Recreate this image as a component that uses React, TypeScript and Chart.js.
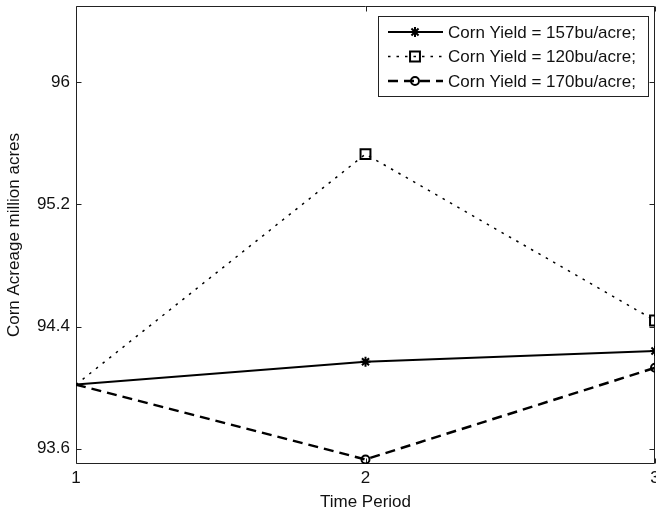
import React, { useEffect, useRef } from 'react';
import { Chart, registerables } from 'chart.js';

Chart.register(...registerables);

const FONT = "'Liberation Sans', Arial, sans-serif";
const FONT_SIZE = 17;

const timePeriods = [1, 2, 3];
const yield157 = [94.02, 94.17, 94.24];
const yield120 = [94.02, 95.53, 94.44];
const yield170 = [94.02, 93.53, 94.13];
const seriesLabels = [
  'Corn Yield = 157bu/acre;',
  'Corn Yield = 120bu/acre;',
  'Corn Yield = 170bu/acre;',
];
const xTickValues = [1, 2, 3];
const yTickValues = [93.6, 94.4, 95.2, 96];
const yMin = 93.5;
const yMax = 96.5;
const xTitle = 'Time Period';
const yTitle = 'Corn Acreage million acres';

function toPoints(vals: number[]) {
  return timePeriods.map((t, i) => ({ x: t, y: vals[i] }));
}

function drawMarker(ctx: CanvasRenderingContext2D, style: string, x: number, y: number, r: number, lw: number) {
  ctx.save();
  ctx.setLineDash([]);
  ctx.lineWidth = lw;
  ctx.strokeStyle = '#000';
  ctx.beginPath();
  if (style === 'star') {
    ctx.moveTo(x - r, y); ctx.lineTo(x + r, y);
    ctx.moveTo(x, y - r); ctx.lineTo(x, y + r);
    const d = r * Math.SQRT1_2;
    ctx.moveTo(x - d, y - d); ctx.lineTo(x + d, y + d);
    ctx.moveTo(x - d, y + d); ctx.lineTo(x + d, y - d);
  } else if (style === 'rect') {
    const s = r * Math.SQRT1_2;
    ctx.rect(x - s, y - s, 2 * s, 2 * s);
  } else {
    ctx.arc(x, y, r, 0, Math.PI * 2);
  }
  ctx.stroke();
  ctx.restore();
}

const framePlugin = {
  id: 'matlabFrame',
  beforeDatasetsDraw(chart: any) {
    const { ctx, chartArea: a, scales } = chart;
    const L = Math.round(a.left) + 0.5;
    const R = Math.round(a.right) - 0.5;
    const T = Math.round(a.top) + 0.5;
    const B = Math.round(a.bottom) - 0.5;
    const tl = 5;
    ctx.save();
    ctx.strokeStyle = '#222';
    ctx.lineWidth = 1;
    ctx.setLineDash([]);
    ctx.beginPath();
    ctx.rect(L, T, R - L, B - T);
    for (const v of yTickValues) {
      const py = Math.round(scales.y.getPixelForValue(v)) + 0.5;
      ctx.moveTo(L, py); ctx.lineTo(L + tl, py);
      ctx.moveTo(R, py); ctx.lineTo(R - tl, py);
    }
    for (const v of xTickValues) {
      const px = Math.round(scales.x.getPixelForValue(v)) + 0.5;
      ctx.moveTo(px, B); ctx.lineTo(px, B - tl);
      ctx.moveTo(px, T); ctx.lineTo(px, T + tl);
    }
    ctx.stroke();
    ctx.restore();
  },
};

const legendPlugin = {
  id: 'matlabLegend',
  afterDatasetsDraw(chart: any) {
    const { ctx } = chart;
    const bx = 378.5, by = 16.5, bw = 270, bh = 80;
    ctx.save();
    ctx.fillStyle = '#fff';
    ctx.fillRect(bx, by, bw, bh);
    ctx.strokeStyle = '#222';
    ctx.lineWidth = 1;
    ctx.setLineDash([]);
    ctx.strokeRect(bx, by, bw, bh);
    chart.data.datasets.forEach((ds: any, i: number) => {
      const y = 32 + i * 24.5;
      ctx.save();
      ctx.strokeStyle = '#000';
      ctx.lineWidth = ds.borderWidth;
      ctx.setLineDash(ds.borderDash || []);
      ctx.beginPath();
      ctx.moveTo(388, y);
      ctx.lineTo(443, y);
      ctx.stroke();
      ctx.restore();
      drawMarker(ctx, ds.pointStyle, 415, y, ds.markerSize, ds.pointBorderWidth);
      ctx.fillStyle = '#111';
      ctx.font = `${FONT_SIZE}px ${FONT}`;
      ctx.textAlign = 'left';
      ctx.textBaseline = 'middle';
      ctx.fillText(ds.label, 448, y + 1);
    });
    ctx.restore();
  },
};

function markerRadius(size: number) {
  return (c: any) => (c.dataIndex === 0 ? 0 : size);
}

export default function App() {
  const ref = useRef<HTMLCanvasElement | null>(null);

  useEffect(() => {
    if (!ref.current) return;
    const chart = new Chart(ref.current, {
      type: 'line',
      data: {
        datasets: [
          {
            label: seriesLabels[0],
            data: toPoints(yield157),
            borderColor: '#000',
            borderWidth: 2,
            pointStyle: 'star',
            markerSize: 5,
            pointRadius: markerRadius(5),
            pointBorderWidth: 2,
            pointBorderColor: '#000',
            pointBackgroundColor: 'transparent',
            tension: 0,
          },
          {
            label: seriesLabels[1],
            data: toPoints(yield120),
            borderColor: '#000',
            borderWidth: 1.5,
            borderDash: [2.5, 6],
            pointStyle: 'rect',
            markerSize: 7,
            pointRadius: markerRadius(7),
            pointBorderWidth: 2,
            pointBorderColor: '#000',
            pointBackgroundColor: 'transparent',
            tension: 0,
          },
          {
            label: seriesLabels[2],
            data: toPoints(yield170),
            borderColor: '#000',
            borderWidth: 2.5,
            borderDash: [10, 6],
            pointStyle: 'circle',
            markerSize: 4,
            pointRadius: markerRadius(4),
            pointBorderWidth: 2,
            pointBorderColor: '#000',
            pointBackgroundColor: 'transparent',
            tension: 0,
          },
        ] as any,
      },
      options: {
        animation: false,
        responsive: false,
        maintainAspectRatio: false,
        events: [],
        layout: { autoPadding: false, padding: { top: 6, right: 1, left: 0, bottom: 0 } },
        plugins: {
          legend: { display: false },
          tooltip: { enabled: false },
          title: { display: false },
        },
        scales: {
          x: {
            type: 'linear',
            min: 1,
            max: 3,
            grid: { display: false, drawTicks: false },
            border: { display: false },
            afterBuildTicks: (scale: any) => {
              scale.ticks = xTickValues.map((v) => ({ value: v }));
            },
            afterFit: (scale: any) => {
              scale.height = 50;
              scale.paddingLeft = 0;
              scale.paddingRight = 0;
            },
            ticks: {
              color: '#111',
              font: { family: FONT, size: FONT_SIZE },
              padding: 4,
              maxRotation: 0,
              autoSkip: false,
              callback: (v: any) => String(v),
            },
            title: {
              display: true,
              text: xTitle,
              color: '#111',
              font: { family: FONT, size: FONT_SIZE },
              padding: { top: 0, bottom: 1 },
            },
          },
          y: {
            type: 'linear',
            min: yMin,
            max: yMax,
            grid: { display: false, drawTicks: false },
            border: { display: false },
            afterBuildTicks: (scale: any) => {
              scale.ticks = yTickValues.map((v) => ({ value: v }));
            },
            afterFit: (scale: any) => {
              scale.width = 76;
              scale.paddingTop = 0;
              scale.paddingBottom = 0;
            },
            ticks: {
              color: '#111',
              font: { family: FONT, size: FONT_SIZE },
              padding: 6,
              autoSkip: false,
              callback: (v: any) => String(v),
            },
            title: {
              display: true,
              text: yTitle,
              color: '#111',
              font: { family: FONT, size: FONT_SIZE },
              padding: { top: 4, bottom: 0 },
            },
          },
        },
      } as any,
      plugins: [framePlugin, legendPlugin],
    });
    return () => chart.destroy();
  }, []);

  return (
    <div style={{ position: 'fixed', left: 0, top: 0, width: 656, height: 514, background: '#fff' }}>
      <canvas ref={ref} width={656} height={514} style={{ display: 'block', width: 656, height: 514 }} />
    </div>
  );
}
